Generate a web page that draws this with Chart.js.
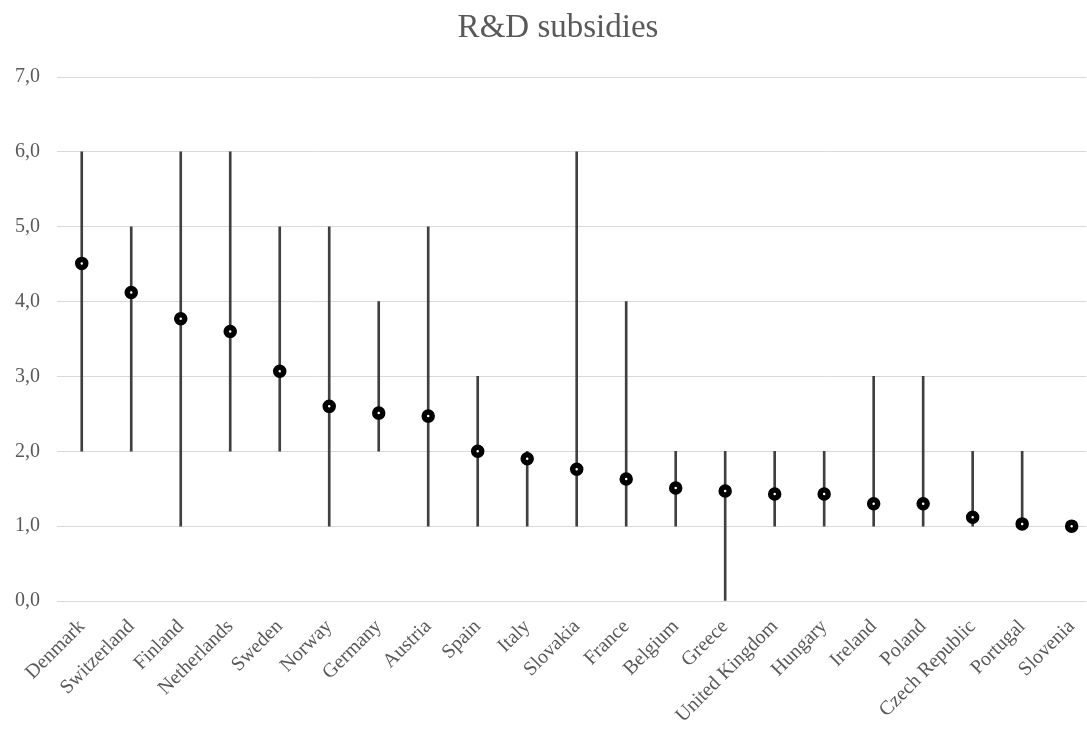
<!DOCTYPE html>
<html>
<head>
<meta charset="utf-8">
<script src="https://cdn.jsdelivr.net/npm/chart.js@4/dist/chart.umd.min.js"></script>
<style>
  html, body { margin: 0; background: #fff; overflow: hidden; }
</style>
</head>
<body>
<canvas id="chart" width="1096" height="746"></canvas>
<script>
// countries, sorted by mean score
const countries = [
  "Denmark", "Switzerland", "Finland", "Netherlands", "Sweden", "Norway",
  "Germany", "Austria", "Spain", "Italy", "Slovakia", "France", "Belgium",
  "Greece", "United Kingdom", "Hungary", "Ireland", "Poland",
  "Czech Republic", "Portugal", "Slovenia",
];
const means = [
  4.51, 4.12, 3.77, 3.6, 3.07, 2.6, 2.51, 2.47, 2.0, 1.9, 1.76, 1.63,
  1.51, 1.47, 1.43, 1.43, 1.3, 1.3, 1.12, 1.03, 1.0,
];
const lows = [2, 2, 1, 2, 2, 1, 2, 1, 1, 1, 1, 1, 1, 0, 1, 1, 1, 1, 1, 1, 1];
const highs = [6, 5, 6, 6, 5, 5, 4, 5, 3, 2, 6, 4, 2, 2, 2, 2, 3, 3, 2, 2, 1];
const yTicks = [0, 1, 2, 3, 4, 5, 6, 7];

const grey = "#595959";
const serif = "'Liberation Serif', 'DejaVu Serif', serif";

// title drawn by hand so it can sit a bit right of centre like the original
const titlePlugin = {
  id: "titleText",
  afterDraw(chart) {
    const ctx = chart.ctx;
    ctx.save();
    ctx.font = "33px " + serif;
    ctx.fillStyle = grey;
    ctx.textAlign = "center";
    ctx.textBaseline = "middle";
    ctx.fillText("R&D subsidies", 558, 28);
    ctx.restore();
  },
};

const ranges = countries.map((c, i) => ({ x: i, y: [lows[i], highs[i]] }));
const points = countries.map((c, i) => ({ x: i, y: means[i] }));

new Chart(document.getElementById("chart"), {
  data: {
    datasets: [
      {
        type: "scatter",
        data: points,
        order: 0,
        pointRadius: 4,
        pointBorderWidth: 5.5,
        pointBorderColor: "#000",
        pointBackgroundColor: "#fff",
        showLine: false,
      },
      {
        type: "bar",
        data: ranges,
        order: 1,
        backgroundColor: "#404040",
        barThickness: 2,
      },
    ],
  },
  options: {
    responsive: false,
    animation: false,
    layout: { padding: { top: 77, right: 0, left: 0, bottom: 0 } },
    plugins: {
      legend: { display: false },
      tooltip: { enabled: false },
    },
    scales: {
      x: {
        type: "linear",
        offset: false,
        min: -0.5,
        max: 20.3,
        grid: { display: false, offset: false },
        border: { display: false },
        afterBuildTicks: (scale) => {
          scale.ticks = countries.map((c, i) => ({ value: i }));
        },
        afterFit: (scale) => {
          scale.height = 145;
        },
        ticks: {
          autoSkip: false,
          minRotation: 45,
          maxRotation: 45,
          padding: 6,
          color: grey,
          font: { family: serif, size: 20 },
          callback: (v) => countries[v],
        },
      },
      y: {
        min: 0,
        max: 7,
        afterBuildTicks: (scale) => {
          scale.ticks = yTicks.map((v) => ({ value: v }));
        },
        afterFit: (scale) => {
          scale.width = 57;
        },
        grid: { color: "#d9d9d9", lineWidth: 1, drawTicks: false },
        border: { display: false },
        ticks: {
          padding: 17,
          color: grey,
          font: { family: serif, size: 20 },
          callback: (v) => v.toFixed(1).replace(".", ","),
        },
      },
    },
  },
  plugins: [titlePlugin],
});
</script>
</body>
</html>
